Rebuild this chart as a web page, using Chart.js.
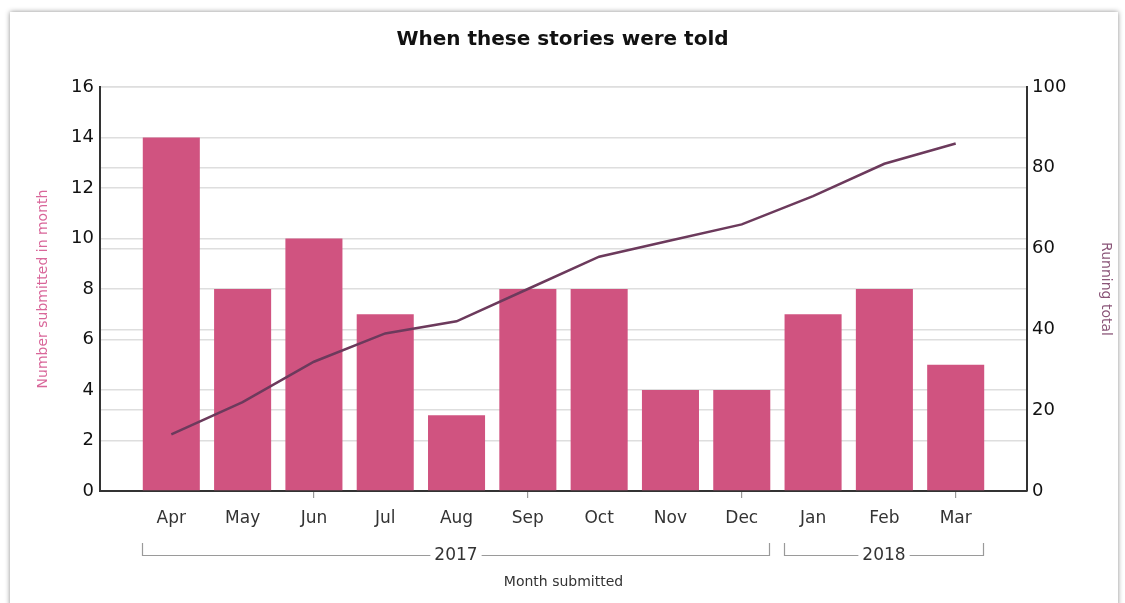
<!DOCTYPE html>
<html><head><meta charset="utf-8">
<script src="https://cdn.jsdelivr.net/npm/chart.js@4"></script>
<style>
html,body{margin:0;padding:0;background:#fff;}
#frame{position:absolute;left:10px;top:12px;width:1108px;height:595px;box-shadow:0 0 5px rgba(0,0,0,0.45);background:#fff;}
#wrap{position:absolute;left:0;top:0;width:1125px;height:603px;}
</style></head><body>
<div id="frame"></div>
<div id="wrap"><canvas id="c" width="1125" height="603"></canvas></div>
<script>
const months = ['Apr','May','Jun','Jul','Aug','Sep','Oct','Nov','Dec','Jan','Feb','Mar'];
const submitted = [14, 8, 10, 7, 3, 8, 8, 4, 4, 7, 8, 5];
const runningTotal = [14, 22, 32, 39, 42, 50, 58, 62, 66, 73, 81, 86];
const years = ['2017', '2018'];
const yearFirstMonth = [0, 9];
const yearLastMonth = [8, 11];
const leftTicks = [0, 2, 4, 6, 8, 10, 12, 14, 16];
const rightTicks = [0, 20, 40, 60, 80, 100];

const FONT = "'DejaVu Sans', Verdana, sans-serif";
const labels = [''].concat(months, ['']);
const pad = a => [null].concat(a, [null]);

const bracketPlugin = {
  id: 'brackets',
  afterDraw(chart) {
    const ctx = chart.ctx;
    const meta = chart.getDatasetMeta(1);
    const yLine = 555, yTop = 543;
    ctx.save();
    ctx.font = "17px " + FONT;
    ctx.textAlign = 'center';
    ctx.textBaseline = 'middle';
    years.forEach((yr, k) => {
      const b0 = meta.data[yearFirstMonth[k] + 1];
      const b1 = meta.data[yearLastMonth[k] + 1];
      const x0 = Math.round(b0.x - b0.width / 2) - 0.5;
      const x1 = Math.round(b1.x + b1.width / 2) - 0.5;
      const cx = (x0 + x1) / 2;
      const tw = ctx.measureText(yr).width / 2 + 4;
      ctx.strokeStyle = '#9a9a9a';
      ctx.lineWidth = 1.2;
      ctx.beginPath();
      ctx.moveTo(x0, yTop); ctx.lineTo(x0, yLine + 0.5); ctx.lineTo(cx - tw, yLine + 0.5);
      ctx.moveTo(cx + tw, yLine + 0.5); ctx.lineTo(x1, yLine + 0.5); ctx.lineTo(x1, yTop);
      ctx.stroke();
      ctx.fillStyle = '#333';
      ctx.fillText(yr, cx, yLine + 1);
    });
    ctx.restore();
  }
};

new Chart(document.getElementById('c'), {
  data: {
    labels: labels,
    datasets: [
      {
        type: 'line', label: 'Running total', data: pad(runningTotal), yAxisID: 'y1',
        borderColor: '#6c3a5c', borderWidth: 2.5, pointRadius: 0, fill: false,
        tension: 0, order: 0
      },
      {
        type: 'bar', label: 'Number submitted in month', data: pad(submitted), yAxisID: 'y',
        backgroundColor: '#d05380', barPercentage: 0.8, categoryPercentage: 1, order: 1
      }
    ]
  },
  plugins: [bracketPlugin],
  options: {
    responsive: false, animation: false,
    devicePixelRatio: 1,
    layout: { padding: { left: 0, right: 0, top: 0, bottom: 0 } },
    plugins: {
      legend: { display: false }, tooltip: { enabled: false },
      title: {
        display: true, text: 'When these stories were told', color: '#111',
        font: { family: FONT, size: 20, weight: 'bold' },
        padding: { top: 28, bottom: 35 }
      }
    },
    scales: {
      x: {
        type: 'category', offset: false,
        grid: {
          offset: false,
          drawOnChartArea: false, drawTicks: true, tickLength: 7,
          tickColor: c => (c.index > 0 && c.index % 3 === 0) ? '#999' : 'rgba(0,0,0,0)',
          lineWidth: 1.2
        },
        border: { display: true, color: '#333', width: 2 },
        ticks: { autoSkip: false, maxRotation: 0, color: '#333', font: { family: FONT, size: 17 }, padding: 10 },
        title: { display: true, text: 'Month submitted', color: '#333', font: { family: FONT, size: 14 }, padding: { top: 0, bottom: 12 } },
        afterFit: s => { s.height = 112; }
      },
      y: {
        position: 'left', min: 0, max: 16,
        afterBuildTicks: s => { s.ticks = leftTicks.map(v => ({ value: v })); },
        grid: { color: '#dedede', lineWidth: 1.5, drawTicks: false },
        border: { display: true, color: '#333', width: 2 },
        ticks: { color: '#111', font: { family: FONT, size: 18 }, padding: 6 },
        title: { display: true, text: 'Number submitted in month', color: '#d9679a', font: { family: FONT, size: 14 }, padding: { top: 35, bottom: 0 } },
        afterFit: s => { s.width = 100; }
      },
      y1: {
        position: 'right', min: 0, max: 100,
        afterBuildTicks: s => { s.ticks = rightTicks.map(v => ({ value: v })); },
        grid: { color: '#dedede', lineWidth: 1.5, drawTicks: false, drawOnChartArea: true },
        border: { display: true, color: '#333', width: 2 },
        ticks: { color: '#111', font: { family: FONT, size: 18 }, padding: 5 },
        title: { display: true, text: 'Running total', color: '#8a5578', font: { family: FONT, size: 14 }, padding: { top: 11, bottom: 0 } },
        afterFit: s => { s.width = 98; }
      }
    }
  }
});
</script>
</body></html>
